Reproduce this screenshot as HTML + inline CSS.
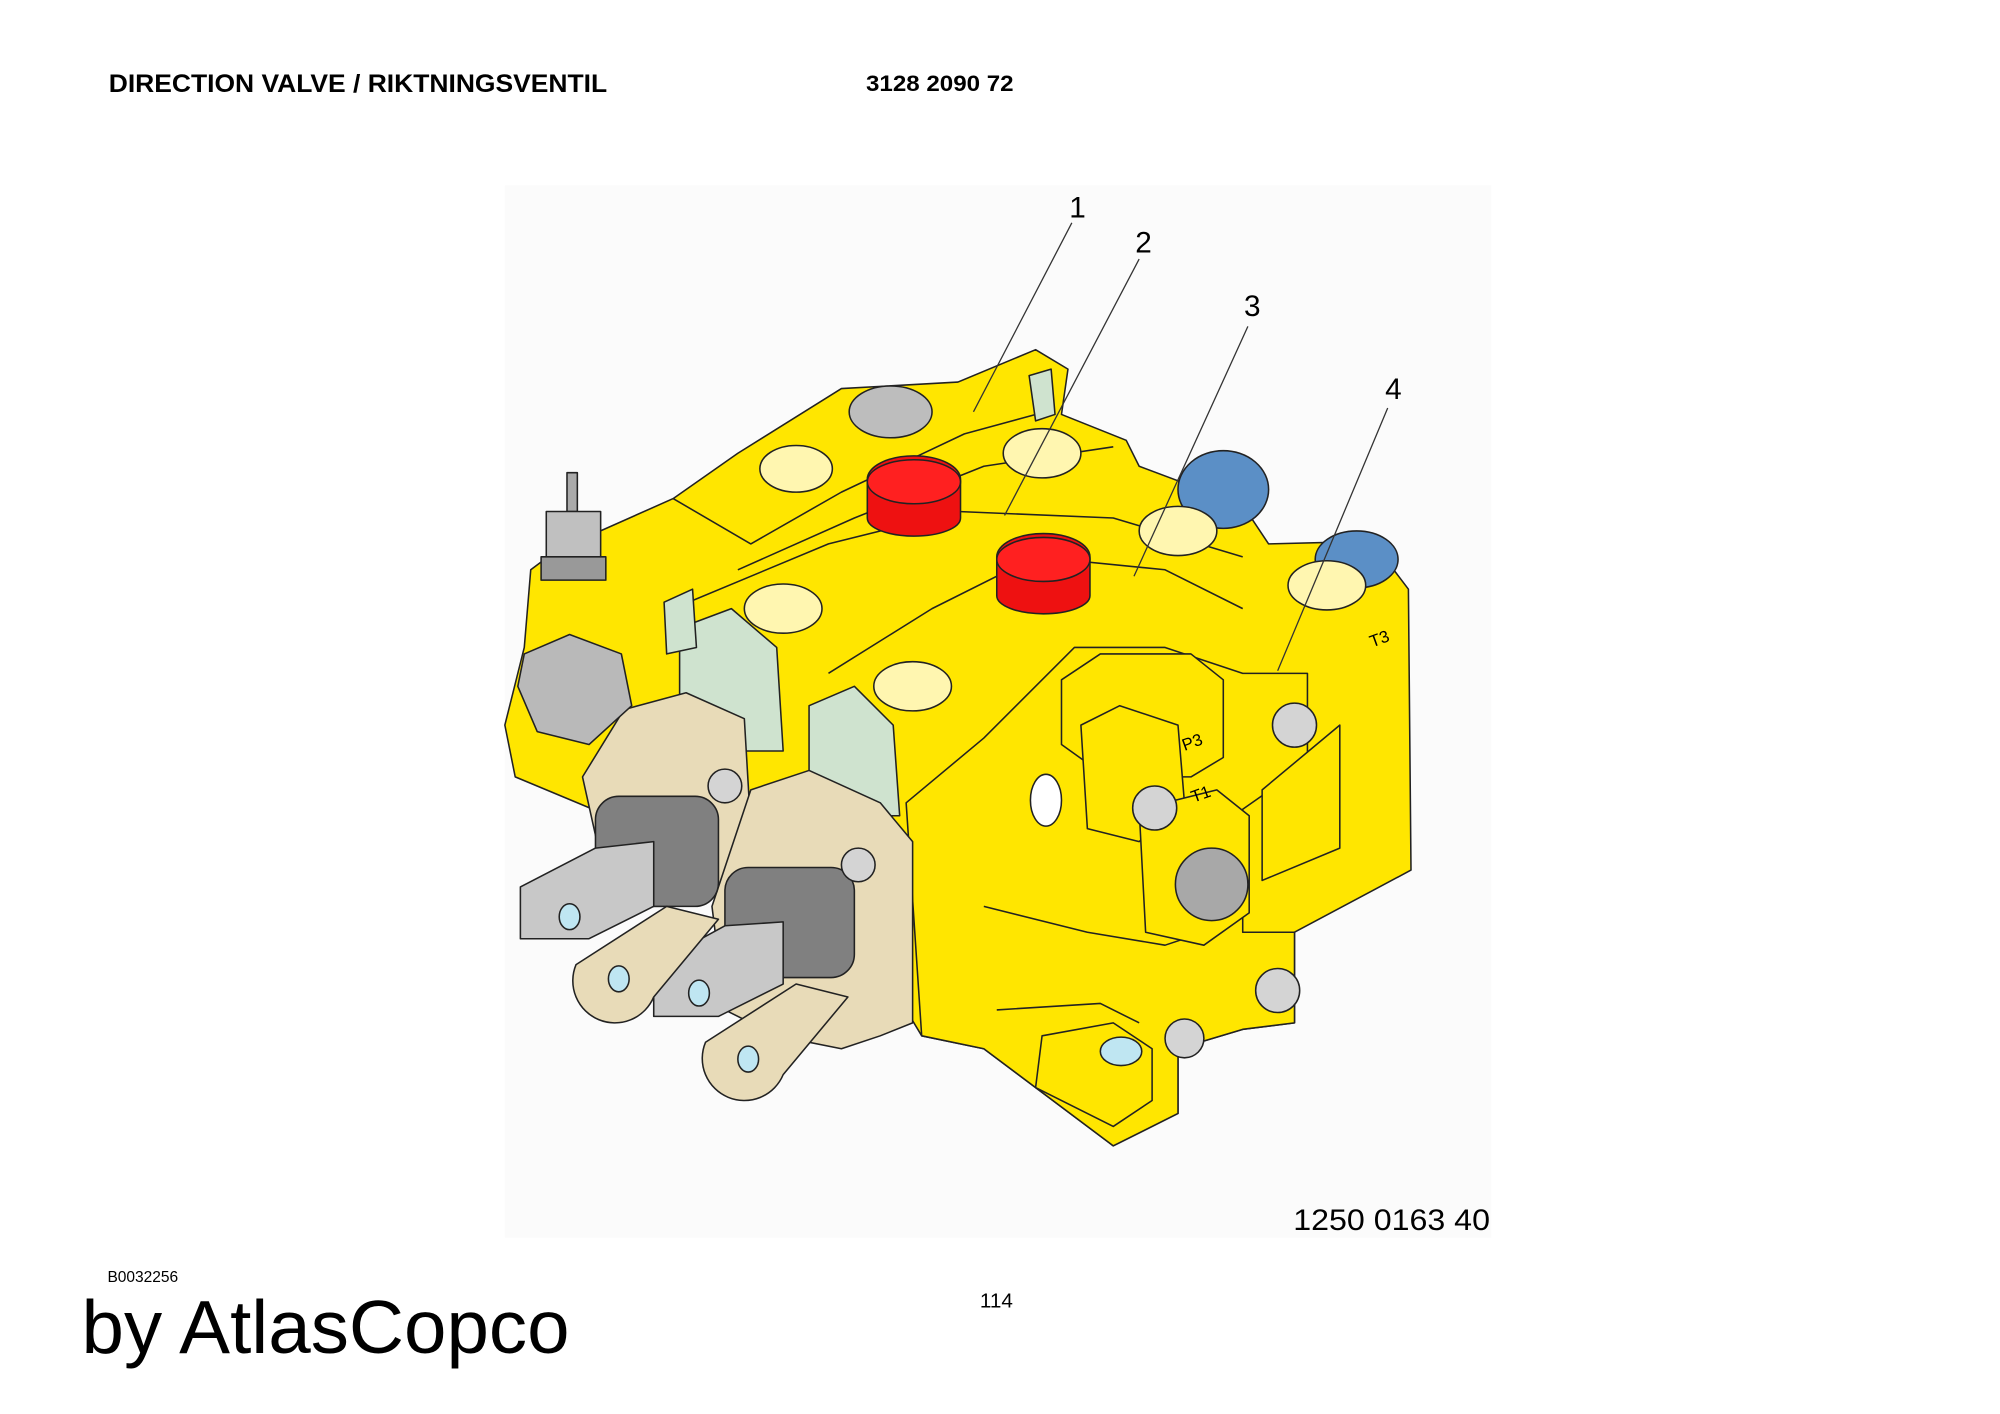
<!DOCTYPE html>
<html><head><meta charset="utf-8"><style>
html,body{margin:0;padding:0;background:#fff;}
svg{display:block}
</style></head><body>
<svg width="2000" height="1414" viewBox="0 0 1545 1092" xmlns="http://www.w3.org/2000/svg" font-family="Liberation Sans, Arial, sans-serif">
<rect x="0" y="0" width="1545" height="1092" fill="#fff"/>
<rect x="390" y="143" width="762" height="813" fill="#fbfbfb"/>
<text x="84" y="71" font-size="19" font-weight="bold" textLength="385" lengthAdjust="spacingAndGlyphs">DIRECTION VALVE / RIKTNINGSVENTIL</text>
<text x="669" y="70" font-size="17" font-weight="bold" textLength="114" lengthAdjust="spacingAndGlyphs">3128 2090 72</text>

<g stroke="#222" stroke-width="1.2" stroke-linejoin="round">
<!-- main body -->
<polygon fill="#ffe600" points="410,440 430,425 520,385 570,350 650,300 740,295 800,270 825,285 820,320 870,340 880,360 960,390 980,420 1060,418 1088,455 1090,672 1000,720 1000,790 960,795 910,810 910,860 860,885 760,810 712,800 700,780 470,630 398,600 390,560 405,500"/>
<!-- upper section lines -->
<polyline fill="none" points="520,385 580,420 650,380 745,335 800,320"/>
<polyline fill="none" points="570,440 660,400 760,360 860,345"/>
<polyline fill="none" points="520,470 640,420 740,395 860,400 960,430"/>
<polyline fill="none" points="640,520 720,470 800,430 900,440 960,470"/>
<polygon fill="#ffe600" points="700,620 760,570 830,500 900,500 960,520 1010,520 1010,590 960,625 960,720 1000,720 1000,790 960,795 910,810 910,860 860,885 760,810 712,800"/>
<polyline fill="none" points="760,700 840,720 900,730 930,720"/>
<polyline fill="none" points="770,780 850,775 880,790"/>
<polygon fill="#ffe600" points="820,525 850,505 920,505 945,525 945,585 920,600 855,600 820,575"/>
<polygon fill="#ffe600" points="835,560 865,545 910,560 915,620 880,650 840,640"/>
<polygon fill="#ffe600" points="880,625 940,610 965,630 965,705 930,730 885,720"/>
<polygon fill="#ffe600" points="975,610 1035,560 1035,655 975,680"/>
<polygon fill="#ffe600" points="805,800 860,790 890,810 890,850 860,870 800,840"/>
<!-- green panels -->
<polygon fill="#cfe3cf" points="525,485 565,470 600,500 605,580 560,580 525,560"/>
<polygon fill="#cfe3cf" points="625,545 660,530 690,560 695,630 650,630 625,610"/>
<polygon fill="#cfe3cf" points="795,290 812,285 815,320 800,325"/>
<polygon fill="#cfe3cf" points="513,465 535,455 538,500 515,505"/>
<!-- beige plates -->
<polygon fill="#e8dbb8" points="482,548 530,535 575,555 580,640 560,680 520,700 490,700 470,690 450,600"/>
<polygon fill="#e8dbb8" points="580,610 625,595 680,620 705,650 705,790 680,800 650,810 600,800 560,780 550,700"/>
<!-- blue parts -->
<ellipse cx="945" cy="378" rx="35" ry="30" fill="#5b8fc6"/>
<ellipse cx="1048" cy="432" rx="32" ry="22" fill="#5b8fc6"/>
<!-- ports -->
<g fill="#fff6b0">
<ellipse cx="615" cy="362" rx="28" ry="18"/>
<ellipse cx="805" cy="350" rx="30" ry="19"/>
<ellipse cx="910" cy="410" rx="30" ry="19"/>
<ellipse cx="1025" cy="452" rx="30" ry="19"/>
<ellipse cx="605" cy="470" rx="30" ry="19"/>
<ellipse cx="705" cy="530" rx="30" ry="19"/>
</g>
<!-- grey cap top -->
<ellipse cx="688" cy="318" rx="32" ry="20" fill="#bdbdbd"/>
<!-- red caps -->
<path d="M670,370 a36,18 0 0 1 72,0 v30 a36,14 0 0 1 -72,0z" fill="#ee1111"/>
<ellipse cx="706" cy="372" rx="36" ry="17" fill="#ff2020"/>
<path d="M770,430 a36,18 0 0 1 72,0 v30 a36,14 0 0 1 -72,0z" fill="#ee1111"/>
<ellipse cx="806" cy="432" rx="36" ry="17" fill="#ff2020"/>
<!-- hex bolt left -->
<polygon fill="#b9b9b9" points="405,505 440,490 480,505 488,545 455,575 415,565 400,530"/>
<!-- sensor -->
<rect x="438" y="365" width="8" height="30" fill="#aaa"/>
<rect x="422" y="395" width="42" height="40" fill="#c0c0c0"/>
<rect x="418" y="430" width="50" height="18" fill="#999"/>
<!-- spools -->
<rect x="460" y="615" width="95" height="85" rx="18" fill="#808080"/>
<rect x="560" y="670" width="100" height="85" rx="18" fill="#808080"/>
<polygon fill="#c8c8c8" points="402,685 460,655 505,650 505,700 455,725 402,725"/>
<polygon fill="#c8c8c8" points="505,745 560,715 605,712 605,760 555,785 505,785"/>
<!-- lugs -->
<path d="M445,745 l70,-45 l40,10 l-50,60 a30,30 0 1 1 -60,-25z" fill="#e8dbb8"/>
<path d="M545,805 l70,-45 l40,10 l-50,60 a30,30 0 1 1 -60,-25z" fill="#e8dbb8"/>
<g fill="#bfe6f2">
<ellipse cx="440" cy="708" rx="8" ry="10"/>
<ellipse cx="478" cy="756" rx="8" ry="10"/>
<ellipse cx="540" cy="767" rx="8" ry="10"/>
<ellipse cx="578" cy="818" rx="8" ry="10"/>
<ellipse cx="866" cy="812" rx="16" ry="11"/>
<ellipse cx="808" cy="618" rx="12" ry="20" fill="#fff"/>
</g>
<!-- nuts -->
<g fill="#d4d4d4">
<circle cx="560" cy="607" r="13"/><circle cx="663" cy="668" r="13"/>
<circle cx="1000" cy="560" r="17"/><circle cx="892" cy="624" r="17"/>
<circle cx="987" cy="765" r="17"/><circle cx="915" cy="802" r="15"/>
<circle cx="936" cy="683" r="28" fill="#a8a8a8"/>
</g>
</g>
<text x="915" y="580" font-size="13" transform="rotate(-20 915 580)">P3</text>
<text x="922" y="620" font-size="13" transform="rotate(-20 922 620)">T1</text>
<text x="1060" y="500" font-size="13" transform="rotate(-20 1060 500)">T3</text>

<!-- leaders -->
<g stroke="#333" stroke-width="1" fill="none">
<line x1="828" y1="172" x2="752" y2="318"/>
<line x1="880" y1="200" x2="776" y2="398"/>
<line x1="964" y1="252" x2="876" y2="445"/>
<line x1="1072" y1="315" x2="987" y2="518"/>
</g>
<g font-size="23">
<text x="826" y="168">1</text>
<text x="877" y="195">2</text>
<text x="961" y="244">3</text>
<text x="1070" y="308">4</text>
</g>
<text x="999" y="950" font-size="23" textLength="152" lengthAdjust="spacingAndGlyphs">1250 0163 40</text>
<text x="83" y="990" font-size="12">B0032256</text>
<text x="757" y="1010" font-size="16">114</text>
<text x="63" y="1045" font-size="58" textLength="377" lengthAdjust="spacingAndGlyphs">by AtlasCopco</text>
</svg>
</body></html>
